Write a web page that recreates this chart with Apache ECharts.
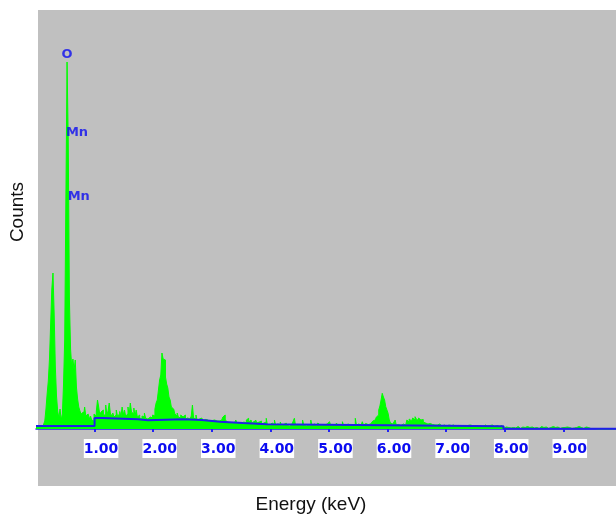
<!DOCTYPE html>
<html>
<head>
<meta charset="utf-8">
<script src="https://cdn.jsdelivr.net/npm/echarts@6/dist/echarts.min.js"></script>
<style>
  html, body { margin: 0; padding: 0; background: #fff; }
</style>
</head>
<body>
<div id="spectrum" style="width: 616px; height: 516px;"></div>
<script>
// EDS spectrum, one value per 0.02 keV channel (counts)
const channelKeV = 0.02;
const counts = [
  20, 25, 20, 30, 25, 35, 30, 40, 80, 200, 350, 480, 700, 1050, 1400, 1560, 1150, 620, 330, 180, 110, 200, 90, 150, 450,
  900, 2300, 3670, 2900, 1300, 800, 620, 700, 590, 690, 420, 300, 220, 180, 150, 170, 120, 220, 130, 150, 160, 100, 130, 90, 80,
  150, 130, 180, 290, 220, 140, 170, 190, 130, 150, 240, 140, 180, 260, 150, 130, 160, 120, 140, 190, 130, 150, 175, 120, 220,
  140, 190, 130, 150, 220, 140, 260, 170, 150, 210, 130, 190, 120, 140, 110, 100, 130, 120, 160, 110, 100, 110, 120, 120, 110,
  140, 130, 200, 260, 290, 390, 490, 540, 760, 700, 690, 520, 450, 410, 320, 290, 220, 200, 190, 150, 130, 160, 120, 110, 140,
  120, 110, 140, 100, 110, 120, 100, 95, 130, 240, 110, 100, 140, 90, 100, 85, 110, 90, 80, 95, 80, 90, 90, 75, 80,
  85, 75, 90, 90, 80, 75, 80, 70, 90, 100, 120, 140, 90, 70, 65, 60, 73, 60, 65, 60, 70, 90, 60, 55, 60,
  60, 50, 70, 85, 60, 90, 107, 70, 90, 107, 60, 80, 55, 90, 60, 55, 70, 80, 50, 60, 55, 70, 107, 40, 35,
  40, 35, 60, 45, 90, 40, 35, 50, 40, 70, 35, 30, 45, 40, 60, 35, 40, 30, 50, 35, 40, 107, 35, 45, 30,
  40, 60, 35, 90, 40, 30, 45, 35, 40, 30, 90, 35, 40, 50, 30, 35, 60, 40, 30, 45, 35, 30, 40, 50, 35,
  40, 73, 35, 30, 45, 40, 35, 60, 30, 40, 35, 45, 73, 35, 30, 40, 50, 35, 40, 30, 45, 60, 35, 107, 40,
  35, 50, 40, 45, 73, 40, 35, 55, 45, 60, 50, 65, 70, 80, 90, 110, 120, 140, 190, 230, 290, 357, 320, 290, 223,
  190, 157, 90, 60, 50, 40, 45, 90, 40, 35, 45, 40, 35, 50, 40, 45, 40, 90, 70, 100, 80, 95, 110, 90, 123,
  100, 85, 110, 90, 80, 95, 70, 60, 75, 50, 45, 55, 57, 45, 50, 40, 55, 40, 35, 50, 30, 35, 30, 40, 30,
  35, 30, 40, 25, 30, 35, 30, 40, 25, 30, 35, 30, 25, 40, 30, 35, 25, 30, 35, 30, 40, 30, 25, 35, 30,
  30, 35, 25, 40, 30, 30, 35, 25, 30, 40, 30, 25, 35, 30, 30, 40, 25, 30, 35, 30, 25, 30, 35, 30, 30,
  10, 20, 5, 15, 25, 10, 5, 15, 20, 10, 5, 25, 10, 15, 5, 20, 10, 5, 15, 25, 10, 5, 15, 10, 20,
  10, 5, 15, 20, 5, 10, 25, 10, 5, 15, 10, 20, 5, 10, 15, 5, 25, 10, 5, 15, 10, 20, 5, 10, 15,
  5, 15, 10, 20, 5, 10, 15, 5, 20, 10, 5, 15, 10, 25, 5, 10, 15, 5, 10, 20, 5, 10, 15, 5, 10,
  5, 0, 5, 10, 0, 5, 0, 5, 0, 5, 0, 0, 5, 0, 5, 0, 0, 5, 0, 0
];

// fitted background (blue step line)
const bgKeV = [0, 1.0, 1.12, 1.74, 1.91, 2.51, 2.83, 3.14, 3.53, 3.94, 7.98, 9.9];
const bgCounts = [30, 110, 97, 87, 97, 90, 73, 60, 47, 27, 3, 3];

// peak identification labels
const peakNames = ['O', 'Mn', 'Mn'];
const peakKeV = [0.53, 0.70, 0.73];
const peakCounts = [3740, 2960, 2320];

const tickValues = [1, 2, 3, 4, 5, 6, 7, 8, 9];

const blue = '#0c0cf0';
const chart = echarts.init(document.getElementById('spectrum'));

const option = {
  animation: false,
  backgroundColor: '#fff',
  graphic: [
    { type: 'rect', z: -10, silent: true,
      shape: { x: 38, y: 10, width: 578, height: 476 },
      style: { fill: '#c0c0c0' } },
    { type: 'text', x: 18, y: 212, rotation: Math.PI / 2, silent: true,
      style: { text: 'Counts', align: 'center', verticalAlign: 'middle',
               font: '19px "Liberation Sans", Arial, sans-serif', fill: '#111' } },
    { type: 'text', x: 311, y: 505, silent: true,
      style: { text: 'Energy (keV)', align: 'center', verticalAlign: 'middle',
               font: '19px "Liberation Sans", Arial, sans-serif', fill: '#111' } }
  ],
  grid: { left: 36, right: 0, top: 10, bottom: 83 },
  xAxis: {
    type: 'value',
    min: 0,
    max: 9.9,
    interval: 1,
    splitLine: { show: false },
    axisLine: { lineStyle: { color: '#2424f4', width: 1.5 } },
    axisTick: { length: 3, lineStyle: { color: '#2424f4', width: 2 } },
    axisLabel: {
      showMinLabel: false,
      showMaxLabel: false,
      margin: 6,
      formatter: v => tickValues.indexOf(v) >= 0 ? '{s| }{b|' + v.toFixed(2) + '}' : '',
      rich: {
        s: { width: 13 },
        b: { backgroundColor: '#fff', color: blue, padding: [3, 0, 2, 0],
             fontFamily: '"DejaVu Sans", sans-serif', fontWeight: 'bold', fontSize: 14 }
      }
    }
  },
  yAxis: {
    type: 'value',
    show: false,
    min: -40,
    max: 4190
  },
  series: [
    {
      type: 'line',
      name: 'spectrum',
      step: 'middle',
      symbol: 'none',
      data: counts.map((c, i) => [i * channelKeV, c]),
      lineStyle: { color: '#00ff00', width: 1 },
      areaStyle: { color: '#00ff00', opacity: 1 },
      z: 2
    },
    {
      type: 'line',
      name: 'background',
      step: 'end',
      symbol: 'none',
      data: bgKeV.map((e, i) => [e, bgCounts[i]]),
      lineStyle: { color: '#2020e8', width: 2 },
      z: 3
    },
    {
      type: 'scatter',
      name: 'peaks',
      symbolSize: 0,
      data: peakNames.map((n, i) => ({ name: n, value: [peakKeV[i], peakCounts[i]] })),
      label: {
        show: true,
        position: 'inside',
        formatter: p => p.name,
        color: blue,
        fontFamily: '"DejaVu Sans", sans-serif',
        fontWeight: 'bold',
        fontSize: 13
      },
      z: 4
    }
  ]
};
chart.setOption(option);
</script>
</body>
</html>
